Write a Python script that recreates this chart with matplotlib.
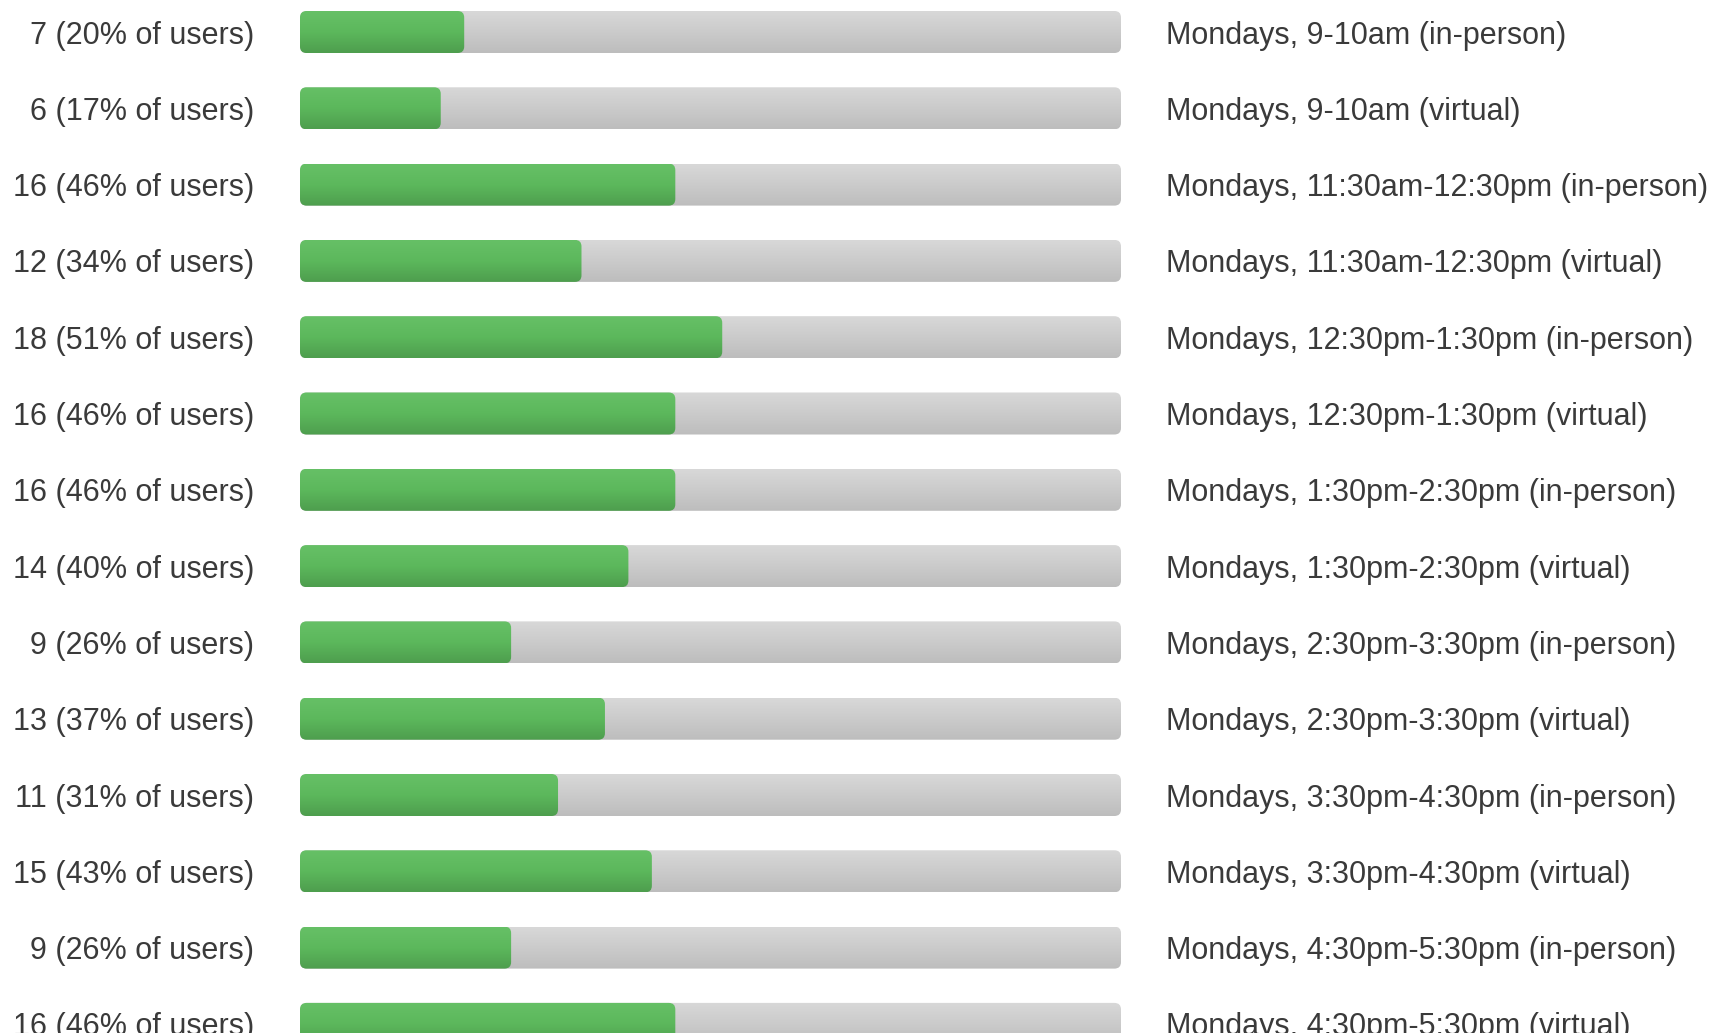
import numpy as np
import matplotlib.pyplot as plt
from matplotlib.patches import FancyBboxPatch
from matplotlib.colors import LinearSegmentedColormap

plt.rcParams['font.family'] = ['Liberation Sans', 'DejaVu Sans']

# responses per time slot (35 users total)
counts = [7, 6, 16, 12, 18, 16, 16, 14, 9, 13, 11, 15, 9, 16]
pcts = [20, 17, 46, 34, 51, 46, 46, 40, 26, 37, 31, 43, 26, 46]
total = 35
slots = ['Mondays, 9-10am (in-person)',
         'Mondays, 9-10am (virtual)',
         'Mondays, 11:30am-12:30pm (in-person)',
         'Mondays, 11:30am-12:30pm (virtual)',
         'Mondays, 12:30pm-1:30pm (in-person)',
         'Mondays, 12:30pm-1:30pm (virtual)',
         'Mondays, 1:30pm-2:30pm (in-person)',
         'Mondays, 1:30pm-2:30pm (virtual)',
         'Mondays, 2:30pm-3:30pm (in-person)',
         'Mondays, 2:30pm-3:30pm (virtual)',
         'Mondays, 3:30pm-4:30pm (in-person)',
         'Mondays, 3:30pm-4:30pm (virtual)',
         'Mondays, 4:30pm-5:30pm (in-person)',
         'Mondays, 4:30pm-5:30pm (virtual)']

W, H = 1735, 1033
fig = plt.figure(figsize=(W / 100, H / 100), dpi=100)
ax_w = 821
ax = fig.add_axes([300 / W, 0, ax_w / W, 1])

row = 76.3
top = 32
ax.set_ylim((H - top) / row, -top / row)
ax.set_xlim(0, 1)
ax.axis('off')

y = np.arange(len(counts))
h = 42 / row
frac = np.array(counts) / total

gray = LinearSegmentedColormap.from_list('g', ['#d8d8d8', '#cbcbcb', '#bdbdbd'])
green = LinearSegmentedColormap.from_list('gr', ['#66c066', '#5cb85c', '#4e9e4e'])
grad = np.linspace(0, 1, 64).reshape(-1, 1)
aspect = ax_w / row


def rounded(bars, cmap):
    for b in bars:
        x0, y0 = b.get_x(), b.get_y()
        w, hh = b.get_width(), b.get_height()
        b.set_visible(False)
        p = FancyBboxPatch((x0, y0), w, hh,
                           boxstyle='round,pad=0,rounding_size=0.008',
                           mutation_aspect=aspect, facecolor='none',
                           edgecolor='none')
        ax.add_patch(p)
        im = ax.imshow(grad, cmap=cmap, aspect='auto',
                       extent=(x0, x0 + w, y0 + hh, y0), interpolation='bilinear')
        im.set_clip_path(p)


rounded(ax.barh(y, np.ones(len(y)), height=h), gray)
rounded(ax.barh(y, frac, height=h), green)
ax.set_xlim(0, 1)
ax.set_ylim((H - top) / row, -top / row)

for yi, c, p, s in zip(y, counts, pcts, slots):
    ax.text(-0.056, yi, f'{c} ({p}% of users)', ha='right',
            va='center_baseline', fontsize=22, color='#3a3a3a', clip_on=False)
    ax.text(1.055, yi, s, ha='left', va='center_baseline',
            fontsize=22, color='#3a3a3a', clip_on=False)

fig.savefig('out.png', dpi=100, facecolor='white')
